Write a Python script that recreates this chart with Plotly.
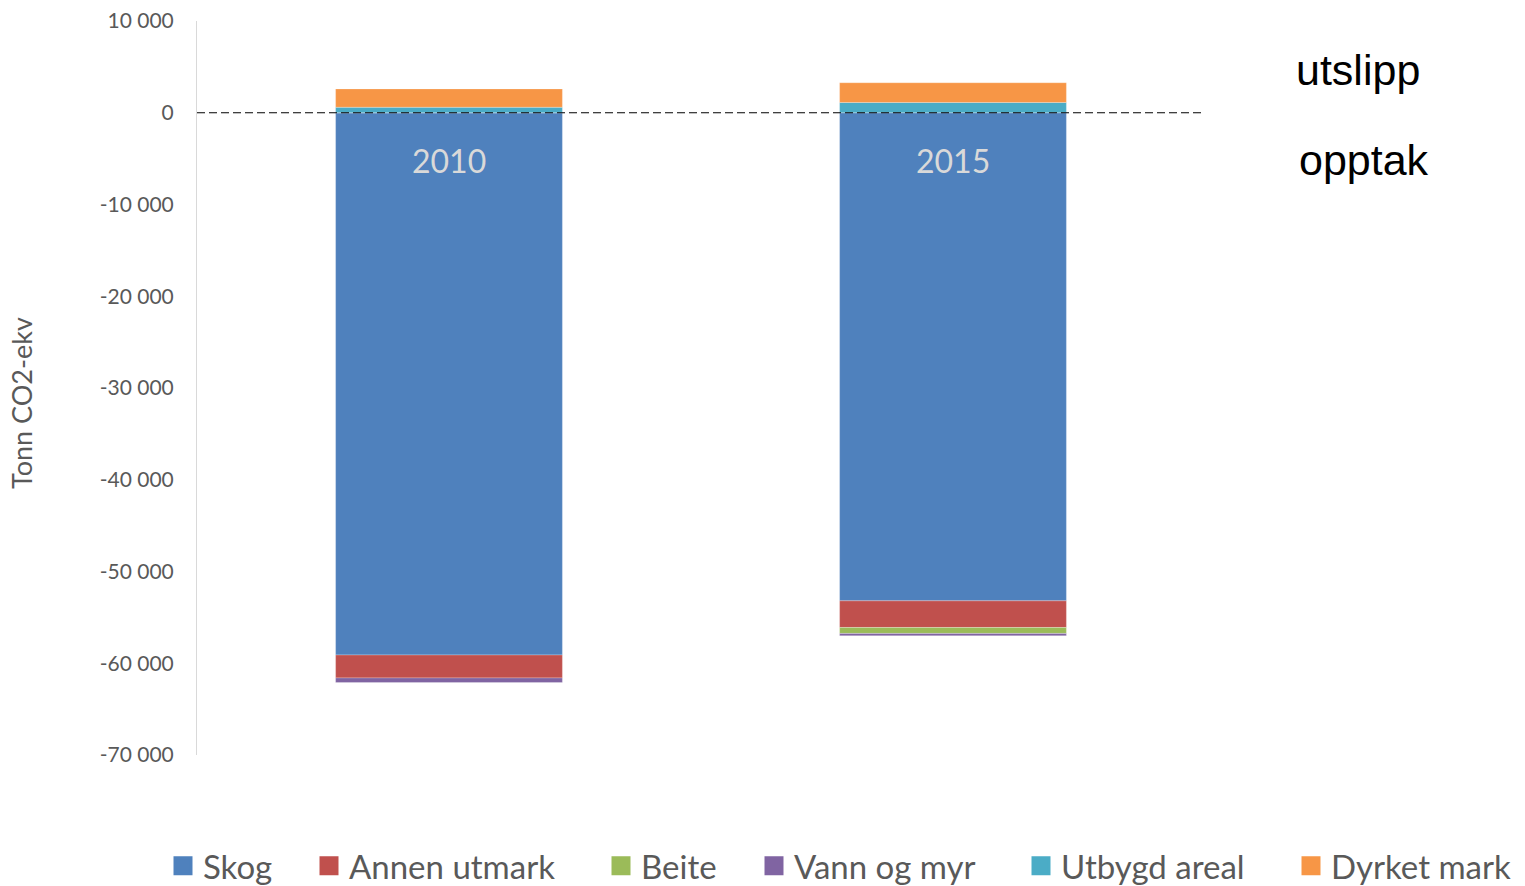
import plotly.graph_objects as go

years = ["2010", "2015"]
skog = [-59100, -53200]
annen_utmark = [-2500, -2900]
beite = [0, -650]
vann_og_myr = [-500, -250]
utbygd_areal = [600, 1120]
dyrket_mark = [2000, 2150]

tick_vals = [10000, 0, -10000, -20000, -30000, -40000, -50000, -60000, -70000]
tick_text = ["10 000", "0", "-10 000", "-20 000", "-30 000", "-40 000", "-50 000", "-60 000", "-70 000"]

series = [
    ("Skog", skog, "#4F81BD"),
    ("Annen utmark", annen_utmark, "#C0504D"),
    ("Beite", beite, "#9BBB59"),
    ("Vann og myr", vann_og_myr, "#8064A2"),
    ("Utbygd areal", utbygd_areal, "#4BACC6"),
    ("Dyrket mark", dyrket_mark, "#F79646"),
]

# plot-area geometry (pixels) used for legend placement
PL, PW = 197, 1008
legend_symbol_left = [174, 320, 612, 765, 1032, 1302]

fig = go.Figure()
for name, vals, col in series:
    fig.add_trace(go.Bar(x=years, y=vals, name=name, showlegend=False,
                         marker=dict(color=col, line=dict(color="rgba(255,255,255,0.5)", width=0.5))))

legend_layouts = {}
for i, (name, vals, col) in enumerate(series):
    lname = "legend" if i == 0 else f"legend{i+1}"
    fig.add_trace(go.Scatter(x=[years[0]], y=[None], mode="markers", name=name, legend=lname,
                             marker=dict(symbol="square", size=20, color=col,
                                         line=dict(color=col, width=3))))
    legend_layouts[lname] = dict(
        orientation="h", x=(legend_symbol_left[i] - 11 - PL) / PW, xanchor="left",
        y=-0.151, yanchor="middle", bgcolor="rgba(0,0,0,0)",
        font=dict(size=33, color="#595959"), itemwidth=30)

for i, yr in enumerate(years):
    fig.add_annotation(x=i, y=-5200, text=yr, showarrow=False, xanchor="center", yanchor="middle",
                       font=dict(family="Lato, sans-serif", size=32, color="#D9D9D9"))

fig.add_annotation(xref="paper", yref="paper", x=1.152, y=0.933, text="utslipp", showarrow=False,
                   xanchor="center", yanchor="middle",
                   font=dict(family="Liberation Sans, Arial", size=43, color="black"))
fig.add_annotation(xref="paper", yref="paper", x=1.158, y=0.811, text="opptak", showarrow=False,
                   xanchor="center", yanchor="middle",
                   font=dict(family="Liberation Sans, Arial", size=43, color="black"))
fig.add_annotation(xref="paper", yref="paper", x=-0.1736, y=0.4796, text="Tonn CO2-ekv",
                   showarrow=False, textangle=-90, xanchor="center", yanchor="middle",
                   font=dict(family="Lato, sans-serif", size=27, color="#595959"))

fig.add_shape(type="line", xref="paper", yref="y", x0=0, x1=1, y0=0, y1=0,
              line=dict(color="black", width=1, dash="8px,4px"), layer="above")

fig.update_layout(
    width=1525, height=886,
    barmode="relative", bargap=0.55,
    plot_bgcolor="white", paper_bgcolor="white",
    margin=dict(l=197, r=320, t=21, b=131, autoexpand=False),
    font=dict(family="Lato, sans-serif", color="#595959"),
    showlegend=True,
    xaxis=dict(type="category", categoryorder="array", categoryarray=years,
               showticklabels=False, showline=False, showgrid=False, zeroline=False),
    yaxis=dict(range=[-70000, 10000], tickvals=tick_vals, ticktext=tick_text,
               showgrid=False, zeroline=False, showline=True, linecolor="#D9D9D9", linewidth=1,
               ticks="outside", ticklen=18, tickcolor="rgba(0,0,0,0)",
               tickfont=dict(size=21, color="#595959")),
    **legend_layouts,
)

fig.write_html("out.html", post_script="document.body.style.margin='0';",
               config={"displayModeBar": False})
